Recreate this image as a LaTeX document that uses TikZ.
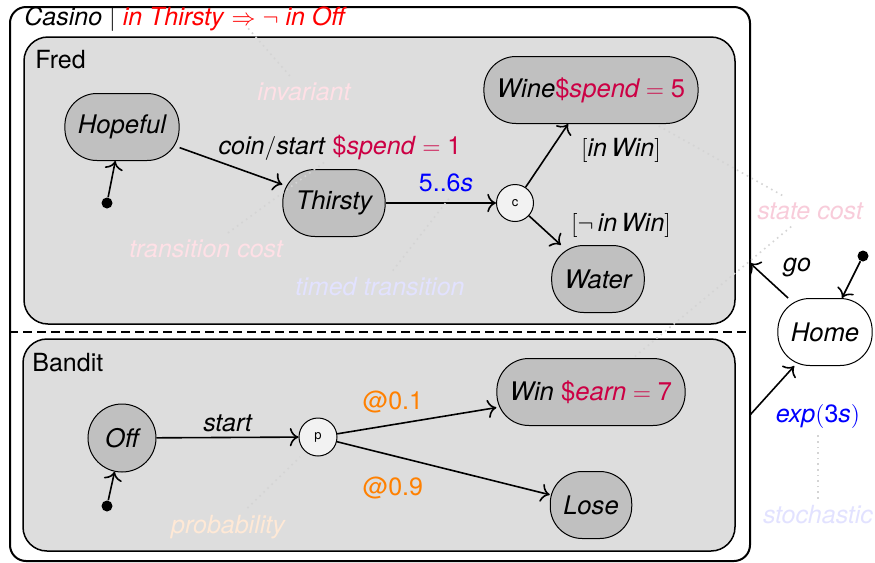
\documentclass[tikz,border=0pt]{standalone}
\usepackage{fontspec}
\setmainfont{TeX Gyre Heros}
\usepackage{tikz}
\usetikzlibrary{arrows.meta}
\definecolor{stategray}{HTML}{C0C0C0}
\definecolor{regiongray}{HTML}{DDDDDD}
\definecolor{costred}{HTML}{CC0044}
\definecolor{proborange}{HTML}{FF8000}
\definecolor{notepink}{HTML}{FFE0E6}
\definecolor{notepinkw}{HTML}{F8CCDA}
\definecolor{noteblue}{HTML}{E2E2FF}
\definecolor{noteorange}{HTML}{FFE9D6}
\definecolor{notegray}{HTML}{D4D4D4}

\begin{document}
\begin{tikzpicture}[x=0.5pt, y=-0.5pt,
    font=\fontsize{12.5}{15}\selectfont,
    statebox/.style={draw, fill=stategray, line width=0.5pt, rounded corners=16pt,
                     minimum height=33.5pt, inner xsep=6.5pt, font=\fontsize{12.8}{15}\selectfont\itshape},
    choicebox/.style={draw, circle, fill=black!5, line width=0.5pt, inner sep=0pt,
                      minimum size=18.5pt, font=\fontsize{6.5}{8}\selectfont},
    casinobox/.style={draw, line width=1pt, rounded corners=8pt},
    regionbox/.style={draw, fill=regiongray, line width=0.75pt, rounded corners=12pt},
    initdot/.style={circle, fill=black, inner sep=0pt, minimum size=5.5pt},
    arrow/.style={-{To[scale=1.3]}, line width=0.8pt},
    divider/.style={dashed, line width=0.75pt, dash pattern=on 4.5pt off 2.5pt},
    annot/.style={font=\fontsize{12.5}{15}\selectfont\itshape},
    annotline/.style={dotted, notegray, line width=0.8pt}
]
\useasboundingbox (0,0) rectangle (875,563);

% containers
\node[casinobox, minimum width=370pt, minimum height=277pt] (casino) at (380,284) {};
\node[regionbox, minimum width=355.5pt, minimum height=143.5pt] (fred) at (379.5,180.5) {};
\node[regionbox, minimum width=356pt, minimum height=106pt] (bandit) at (379,445) {};
\coordinate (divy) at (0,332);
\draw[divider] (casino.west |- divy) -- (casino.east |- divy);

\node[anchor=west, inner sep=0pt] (title) at (24,19)
    {\textit{Casino} $|$ \textcolor{red}{\textit{in Thirsty} $\Rightarrow$ $\neg$ \textit{in Off}}};
\node[anchor=west, inner sep=0pt] (fredname) at (35,60) {Fred};
\node[anchor=west, inner sep=0pt] (banditname) at (32,363) {Bandit};

% Fred
\node[statebox] (hopeful) at (122,127) {Hopeful};
\node[statebox] (thirsty) at (334,203) {Thirsty};
\node[choicebox] (cond) at (515,203) {c};
\node[statebox] (wine) at (591,90) {Wine\textcolor{costred}{\textup{\$}\textit{spend}${}={}$\textup{5}}};
\node[statebox] (water) at (598,279) {Water};
\node[initdot] (fredinit) at (107,203) {};

\draw[arrow] (fredinit) -- (hopeful);
\draw[arrow] (hopeful) -- (thirsty);
\draw[arrow] (thirsty) -- (cond);
\draw[arrow] (cond) -- (wine);
\draw[arrow] (cond) -- (water);

\node (coinlbl) at (340,148) {\textit{coin}$/$\textit{start} \textcolor{costred}{\$\textit{spend}${}={}$1}};
\node (timelbl) at (446,183) {\textcolor{blue}{5..6\textit{s}}};
\node (winlbl) at (621,150) {$[$\textit{in}\,\textit{Win}$]$};
\node (nowinlbl) at (621,225) {$[\neg$\,\textit{in}\,\textit{Win}$]$};

% Bandit
\node[statebox, circle, minimum size=34pt, inner sep=0pt] (off) at (122,438) {Off};
\node[choicebox, minimum size=19pt] (prob) at (318,437) {p};
\node[statebox] (win) at (591,392) {Win \textcolor{costred}{\textup{\$}\textit{earn}${}={}$\textup{7}}};
\node[statebox] (lose) at (591,505) {Lose};
\node[initdot] (banditinit) at (107,506) {};

\draw[arrow] (banditinit) -- (off);
\draw[arrow] (off) -- (prob);
\draw[arrow] (prob) -- (win);
\draw[arrow] (prob) -- (lose);

\node (startlbl) at (228,423) {\textit{start}};
\node (winprob) at (393,402) {\textcolor{proborange}{@0.1}};
\node (loseprob) at (393,488) {\textcolor{proborange}{@0.9}};

% Home
\node[statebox, fill=white] (home) at (825,332) {Home};
\node[initdot] (homeinit) at (863,256) {};
\coordinate (goend) at (750,263);
\coordinate (expstart) at (750,415);

\draw[arrow] (homeinit) -- (home);
\draw[arrow] (home) -- (goend);
\draw[arrow] (expstart) -- (home);

\node (golbl) at (797,267) {\textit{go}};
\node (explbl) at (818,416) {\textcolor{blue}{\textit{exp}$($3\textit{s}$)$}};

% notes
\node[annot, text=notepink] (invariant) at (304,92) {invariant};
\node[annot, text=notepink] (transcost) at (206,249) {transition cost};
\node[annot, text=noteblue] (timednote) at (380,287) {timed transition};
\node[annot, text=notepinkw] (statecost) at (810,211) {state cost};
\node[annot, text=noteorange] (probnote) at (228,527) {probability};
\node[annot, text=noteblue] (stochnote) at (818,515) {stochastic};

\coordinate (invtip) at (247,27);
\coordinate (transtip) at (326,161);
\coordinate (timedtip) at (451,196);
\coordinate (winetip) at (657,125);
\coordinate (earntip) at (633,358);
\coordinate (probtip) at (300,457);

\draw[annotline] (invariant) -- (invtip);
\draw[annotline] (transcost) -- (transtip);
\draw[annotline] (timednote) -- (timedtip);
\draw[annotline] (statecost) -- (winetip);
\draw[annotline] (statecost) -- (earntip);
\draw[annotline] (probnote) -- (probtip);
\draw[annotline] (stochnote) -- (explbl);
\end{tikzpicture}
\end{document}
